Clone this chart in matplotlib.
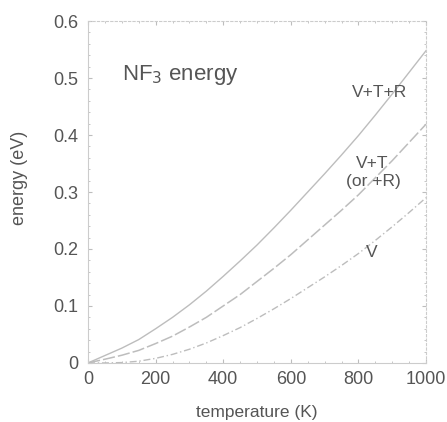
import matplotlib.pyplot as plt
import numpy as np

plt.rcParams['font.family'] = ['Liberation Sans', 'DejaVu Sans']

# temperature grid (K) and energies (eV)
temps = [0, 50, 100, 150, 200, 250, 300, 350, 400, 450, 500, 550, 600, 650, 700, 750, 800, 850, 900, 950, 1000]
e_v = [0.0, 0.0, 0.0006, 0.003, 0.008, 0.015, 0.024, 0.035, 0.048, 0.062, 0.078, 0.095, 0.113, 0.132, 0.151, 0.171, 0.192, 0.215, 0.239, 0.264, 0.290]
e_vt = [0.0, 0.0065, 0.0135, 0.022, 0.034, 0.047, 0.063, 0.080, 0.100, 0.120, 0.143, 0.166, 0.190, 0.216, 0.242, 0.268, 0.295, 0.325, 0.355, 0.387, 0.419]
e_vtr = [0.0, 0.013, 0.026, 0.041, 0.060, 0.080, 0.102, 0.126, 0.152, 0.179, 0.207, 0.237, 0.268, 0.300, 0.332, 0.365, 0.399, 0.435, 0.472, 0.510, 0.548]

grey = '#bdbdbd'
text_grey = '#555555'

def generateGraph():
    fig = plt.figure(figsize=(4.47, 4.22), dpi=100)
    ax = fig.add_axes([0.197, 0.140, 0.756, 0.810])

    ax.plot(temps, e_vtr, color=grey, lw=1.0, ls='-')
    ax.plot(temps, e_vt, color=grey, lw=1.1, ls=(0, (8, 2)))
    ax.plot(temps, e_v, color=grey, lw=1.0, ls=(0, (5, 2, 1, 2)))

    ax.set_xlim(0, 1000)
    ax.set_ylim(0, 0.6)
    ax.set_xticks([0, 200, 400, 600, 800, 1000])
    ax.set_yticks([0, 0.1, 0.2, 0.3, 0.4, 0.5, 0.6])
    ax.set_yticklabels(['0', '0.1', '0.2', '0.3', '0.4', '0.5', '0.6'])
    ax.set_xticks(np.arange(0, 1001, 50), minor=True)
    ax.set_yticks(np.arange(0, 0.601, 0.02), minor=True)
    ax.tick_params(which='both', direction='in', color=grey, top=True, right=True,
                   labelcolor=text_grey, labelsize=13)
    ax.tick_params(axis='x', pad=6)
    ax.tick_params(axis='y', pad=7)
    ax.tick_params(which='major', length=3)
    ax.tick_params(which='minor', length=1.5)

    for side in ['top', 'right']:
        ax.spines[side].set_linestyle((0, (2, 2)))
    for sp in ax.spines.values():
        sp.set_color('#cccccc')
        sp.set_linewidth(0.8)

    ax.set_xlabel('temperature (K)', color=text_grey, fontsize=12.5)
    ax.xaxis.set_label_coords(0.5, -0.122)
    ax.set_ylabel('energy (eV)', color=text_grey, fontsize=13)
    ax.yaxis.set_label_coords(-0.178, 0.54)

    ax.text(100, 0.497, 'NF$_3$ energy', color=text_grey, fontsize=16, va='baseline')
    ax.text(864, 0.475, 'V+T+R', color=text_grey, fontsize=12.5, ha='center', va='center')
    ax.text(840, 0.35, 'V+T', color=text_grey, fontsize=12.5, ha='center', va='center')
    ax.text(843, 0.318, '(or +R)', color=text_grey, fontsize=12.5, ha='center', va='center')
    ax.text(840, 0.193, 'V', color=text_grey, fontsize=12.5, ha='center', va='center')

    fig.savefig('out.png', dpi=100)


def main():
    generateGraph()


if __name__ == '__main__':
    main()
